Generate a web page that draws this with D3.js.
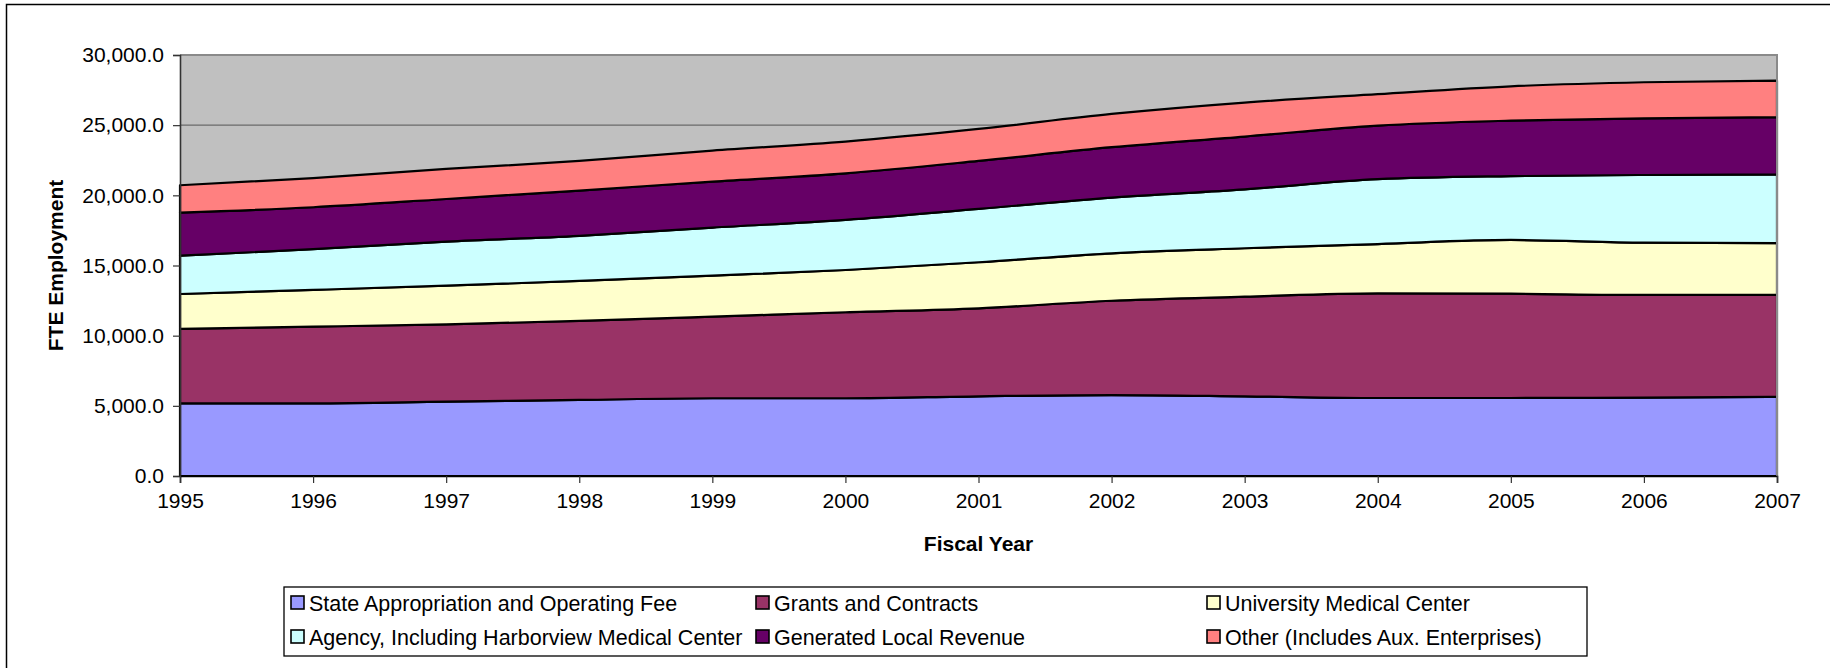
<!DOCTYPE html>
<html>
<head>
<meta charset="utf-8">
<script src="https://cdn.jsdelivr.net/npm/d3@7"></script>
<style>
  html, body { margin: 0; padding: 0; background: #fff; }
  svg { display: block; }
  text { font-family: "Liberation Sans", Arial, sans-serif; fill: #000; }
</style>
</head>
<body>
<svg id="chart" width="1830" height="668"></svg>
<script>
// ---- data ----
const years = [1995, 1996, 1997, 1998, 1999, 2000, 2001, 2002, 2003, 2004, 2005, 2006, 2007];
const seriesNames = [
  "State Appropriation and Operating Fee",
  "Grants and Contracts",
  "University Medical Center",
  "Agency, Including Harborview Medical Center",
  "Generated Local Revenue",
  "Other (Includes Aux. Enterprises)"
];
const stateAppropriation = [5180, 5180, 5300, 5420, 5540, 5540, 5680, 5770, 5680, 5560, 5560, 5580, 5650];
const grantsContracts    = [5300, 5460, 5510, 5630, 5810, 6130, 6270, 6720, 7100, 7460, 7430, 7320, 7250];
const universityMedical  = [2490, 2620, 2750, 2850, 2930, 3010, 3280, 3380, 3450, 3510, 3830, 3730, 3690];
const agencyHarborview   = [2730, 2900, 3140, 3210, 3420, 3570, 3800, 3970, 4200, 4620, 4550, 4820, 4910];
const generatedLocal     = [3070, 2990, 3040, 3230, 3280, 3320, 3420, 3590, 3760, 3820, 3950, 4040, 4070];
const otherAux           = [1950, 2070, 2140, 2110, 2210, 2260, 2280, 2370, 2420, 2240, 2450, 2570, 2610];
const yTicks = [0, 5000, 10000, 15000, 20000, 25000, 30000];
const colors = ["#9999FF", "#993366", "#FFFFCC", "#CCFFFF", "#660066", "#FF8080"];

const seriesValues = [stateAppropriation, grantsContracts, universityMedical, agencyHarborview, generatedLocal, otherAux];
const table = years.map((y, i) => {
  const row = { year: y };
  seriesNames.forEach((n, k) => row[n] = seriesValues[k][i]);
  return row;
});

// ---- layout ----
const svg = d3.select("#chart");
const L = 180, R = 1777, T = 55, B = 476;

svg.append("rect").attr("x", 6.5).attr("y", 4.5).attr("width", 1900).attr("height", 800)
  .attr("fill", "none").attr("stroke", "#000").attr("stroke-width", 1.5);

const x = d3.scaleLinear().domain([years[0], years[years.length - 1]]).range([L, R]);
const y = d3.scaleLinear().domain([0, 30000]).range([B, T]);

// plot background
svg.append("rect").attr("x", L).attr("y", T).attr("width", R - L).attr("height", B - T)
  .attr("fill", "#C0C0C0");

// gridlines
svg.append("g").selectAll("line").data(yTicks.filter(v => v > 0 && v < 30000)).join("line")
  .attr("x1", L).attr("x2", R).attr("y1", d => y(d)).attr("y2", d => y(d))
  .attr("stroke", "#6a6a6a").attr("stroke-width", 1.2);

// stacked areas
const stack = d3.stack().keys(seriesNames);
const stacked = stack(table);
const area = d3.area()
  .x(d => x(d.data.year))
  .y0(d => y(d[0]))
  .y1(d => y(d[1]))
  .curve(d3.curveMonotoneX);

svg.append("g").selectAll("path").data(stacked).join("path")
  .attr("d", area)
  .attr("fill", (d, i) => colors[i])
  .attr("stroke", "#000")
  .attr("stroke-width", 2.2)
  .attr("stroke-linejoin", "round");

// plot border (top & right gray)
svg.append("path")
  .attr("d", `M${L},${T}H${R}V${B}`)
  .attr("fill", "none").attr("stroke", "#8a8a8a").attr("stroke-width", 2);

// y axis
const yAxis = d3.axisLeft(y).tickValues(yTicks).tickFormat(d3.format(",.1f")).tickSize(7).tickPadding(9);
const gy = svg.append("g").attr("transform", `translate(${L},0)`).call(yAxis);
gy.select(".domain").attr("stroke", "#333").attr("stroke-width", 1.6);
gy.selectAll(".tick line").attr("stroke", "#333").attr("stroke-width", 1.2);
gy.selectAll("text").style("font-size", "21px").style("font-family", "'Liberation Sans', Arial, sans-serif").attr("fill", "#000");

// x axis
const xAxis = d3.axisBottom(x).tickValues(years).tickFormat(d3.format("d")).tickSize(7).tickPadding(10);
const gx = svg.append("g").attr("transform", `translate(0,${B})`).call(xAxis);
gx.select(".domain").attr("stroke", "#000").attr("stroke-width", 1.6);
gx.selectAll(".tick line").attr("stroke", "#333").attr("stroke-width", 1.2);
gx.selectAll("text").style("font-size", "21px").style("font-family", "'Liberation Sans', Arial, sans-serif").attr("fill", "#000");

// axis titles
svg.append("text").attr("x", (L + R) / 2).attr("y", 551).attr("text-anchor", "middle")
  .style("font-size", "21px").style("font-weight", "bold").text("Fiscal Year");
svg.append("text").attr("transform", `translate(63,${(T + B) / 2}) rotate(-90)`)
  .attr("text-anchor", "middle")
  .style("font-size", "21px").style("font-weight", "bold").text("FTE Employment");

// legend
const lg = svg.append("g");
lg.append("rect").attr("x", 284).attr("y", 587).attr("width", 1303).attr("height", 69)
  .attr("fill", "#fff").attr("stroke", "#000").attr("stroke-width", 1.3);
const colX = [309, 774, 1225];
const rowY = [603, 637];
seriesNames.forEach((n, i) => {
  const cx = colX[i % 3], cy = rowY[Math.floor(i / 3)];
  lg.append("rect").attr("x", cx - 18).attr("y", cy - 7).attr("width", 13).attr("height", 13)
    .attr("fill", colors[i]).attr("stroke", "#000").attr("stroke-width", 1.6);
  lg.append("text").attr("x", cx).attr("y", cy).attr("dy", "0.36em")
    .style("font-size", "21.5px").text(n);
});
</script>
</body>
</html>
